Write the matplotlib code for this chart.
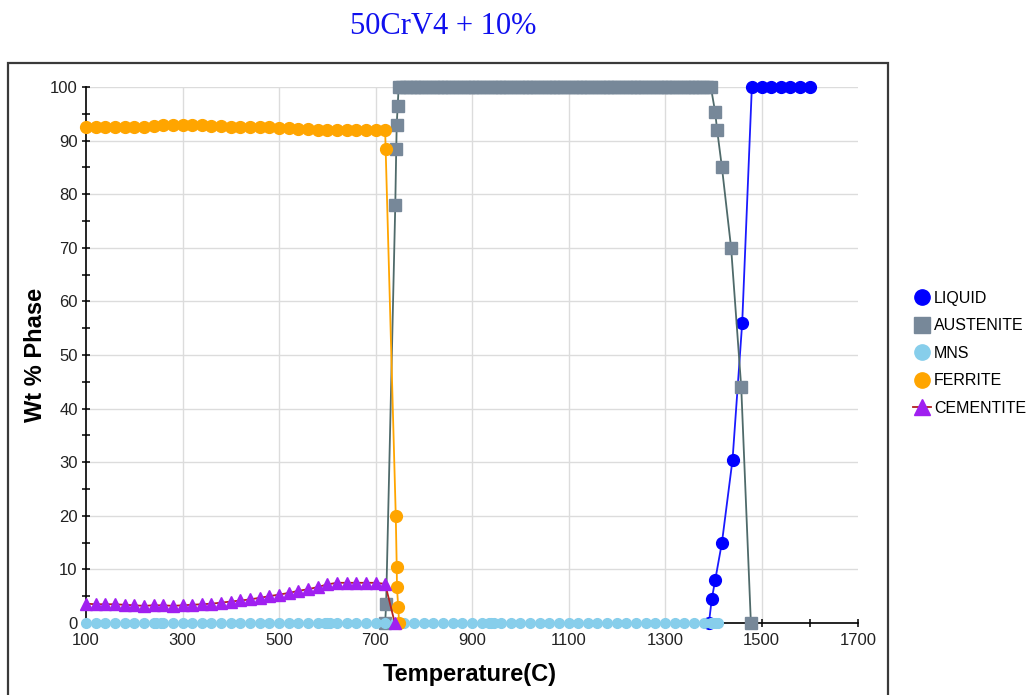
import matplotlib
matplotlib.use('Agg')
import matplotlib.pyplot as plt
from matplotlib.ticker import MultipleLocator, FixedLocator
from matplotlib.patches import Rectangle
from matplotlib.lines import Line2D

# ---------------- data ----------------
title = "50CrV4 + 10%"
x_label = "Temperature(C)"
y_label = "Wt % Phase"
series_names = ["LIQUID", "AUSTENITE", "MNS", "FERRITE", "CEMENTITE"]
x_ticks = [100, 300, 500, 700, 900, 1100, 1300, 1500, 1700]
y_ticks = [0, 10, 20, 30, 40, 50, 60, 70, 80, 90, 100]

# base sampling grid of the calculation (every 20 C)
low_T = list(range(100, 721, 20))

liquid_T = [1391, 1397, 1404, 1418, 1440, 1460, 1480, 1500, 1520, 1540, 1560, 1580, 1600]
liquid_wt = [0, 4.5, 8, 15, 30.5, 56, 100, 100, 100, 100, 100, 100, 100]

aust_rise_T = [720, 722, 741, 743, 744, 746, 748]
aust_rise_wt = [0, 3.5, 78, 88.5, 93, 96.5, 100]
aust_plateau_T = list(range(755, 1401, 8))
aust_fall_T = [1404, 1408, 1418, 1437, 1458, 1478]
aust_fall_wt = [95.3, 92, 85, 70, 44, 0]

mns_T = list(range(100, 1401, 20)) + [245, 255, 595, 605, 935, 945, 1395, 1405, 1410]
mns_wt = [0] * len(mns_T)

ferrite_low_wt = [92.5, 92.5, 92.5, 92.5, 92.5, 92.5, 92.6, 92.8, 92.9, 92.9,
                  92.9, 92.9, 92.9, 92.8, 92.7, 92.6, 92.6, 92.6, 92.5, 92.5,
                  92.4, 92.3, 92.2, 92.1, 92.0, 92.0, 92.0, 92.0, 92.0, 92.0,
                  92.0, 92.0]
ferrite_drop_T = [721, 742, 744, 744.5, 747, 749]
ferrite_drop_wt = [88.5, 20, 10.5, 6.7, 3, 0]

cementite_low_wt = [3.6, 3.5, 3.5, 3.5, 3.4, 3.3, 3.2, 3.3, 3.3, 3.2,
                    3.3, 3.4, 3.5, 3.6, 3.8, 4.0, 4.2, 4.4, 4.7, 5.0,
                    5.3, 5.6, 6.0, 6.3, 6.7, 7.2, 7.5, 7.5, 7.5, 7.5,
                    7.5, 7.3]
cementite_drop_T = [740]
cementite_drop_wt = [0]

x_min, x_max = 100, 1700
y_min, y_max = 0, 100

# ---------------- figure ----------------
fig = plt.figure(figsize=(10.29, 6.95), dpi=100)
fig.patch.set_facecolor('white')

# outer frame
fig.add_artist(Rectangle((8 / 1029, -0.02), (888 - 8) / 1029, (695 - 63) / 695 + 0.02,
                         transform=fig.transFigure, fill=False,
                         edgecolor='#3a3a3a', linewidth=1.6))

fig.text(443 / 1029, 1 - 27 / 695, title, ha='center', va='center',
         fontsize=22, color='#1010ee', family='Liberation Serif')

ax = fig.add_axes([86 / 1029, (695 - 623) / 695, 772 / 1029, 536 / 695])
ax.set_xlim(x_min, x_max)
ax.set_ylim(y_min, y_max)

colors = {'LIQUID': ('#1a1aff', '#0000ff', 'o'),
          'AUSTENITE': ('#4f6a6a', '#778899', 's'),
          'MNS': ('#87ceeb', '#87ceeb', 'o'),
          'FERRITE': ('#ffa500', '#ffa500', 'o'),
          'CEMENTITE': ('#b22222', '#a020f0', '^')}

common = dict(clip_on=False, linewidth=1.3)
lc, mc, mk = colors['LIQUID']
ax.plot(liquid_T, liquid_wt, color=lc, marker=mk, markersize=8.5,
        markerfacecolor=mc, markeredgecolor=mc, zorder=3, **common)
aust_T = aust_rise_T + aust_plateau_T + aust_fall_T
aust_wt = aust_rise_wt + [100] * len(aust_plateau_T) + aust_fall_wt
lc, mc, mk = colors['AUSTENITE']
ax.plot(aust_T, aust_wt, color=lc, marker=mk, markersize=9,
        markerfacecolor=mc, markeredgecolor=mc, zorder=3, **common)
mns_pairs = sorted(zip(mns_T, mns_wt))
lc, mc, mk = colors['MNS']
ax.plot([p[0] for p in mns_pairs], [p[1] for p in mns_pairs], color=lc,
        marker=mk, markersize=7, markerfacecolor=mc, markeredgecolor=mc,
        zorder=4, **common)
lc, mc, mk = colors['FERRITE']
ax.plot(low_T + ferrite_drop_T, ferrite_low_wt + ferrite_drop_wt, color=lc,
        marker=mk, markersize=8.5, markerfacecolor=mc, markeredgecolor=mc,
        zorder=5, **common)
lc, mc, mk = colors['CEMENTITE']
ax.plot(low_T + cementite_drop_T, cementite_low_wt + cementite_drop_wt, color=lc,
        marker=mk, markersize=9, markerfacecolor=mc, markeredgecolor=mc,
        zorder=6, **common)

# axes styling
for s in ['top', 'right']:
    ax.spines[s].set_visible(False)
for s in ['left', 'bottom']:
    ax.spines[s].set_color('black')
    ax.spines[s].set_linewidth(1.2)

ax.xaxis.set_major_locator(FixedLocator(x_ticks))
ax.xaxis.set_minor_locator(MultipleLocator(100))
ax.yaxis.set_major_locator(FixedLocator(y_ticks))
ax.yaxis.set_minor_locator(MultipleLocator(5))
ax.tick_params(which='both', direction='inout', length=6, width=1.1, color='black')
ax.tick_params(axis='x', which='major', pad=4, labelsize=12, labelcolor='#222222')
ax.tick_params(axis='y', which='major', pad=3, labelsize=12, labelcolor='#222222')
for lab in ax.get_xticklabels() + ax.get_yticklabels():
    lab.set_family('Liberation Sans')

ax.grid(True, which='major', color='#dcdcdc', linewidth=1.0)
ax.set_axisbelow(True)
xg = ax.xaxis.get_gridlines()
xg[0].set_visible(False)
xg[-1].set_visible(False)

ax.set_xlabel(x_label, fontsize=17, fontweight='bold', family='Liberation Sans')
ax.set_ylabel(y_label, fontsize=17, fontweight='bold', family='Liberation Sans')
ax.xaxis.set_label_coords(0.497, -0.075)
ax.yaxis.set_label_coords(-0.05, 0.5)

# legend: markers only (cementite shows its line colour through the triangle)
handles = []
for name in series_names:
    lc, mc, mk = colors[name]
    ls = '-' if name == 'CEMENTITE' else 'none'
    handles.append(Line2D([], [], color=lc, linestyle=ls, linewidth=1.3, marker=mk,
                          markersize=11 if mk != '^' else 11.5,
                          markerfacecolor=mc, markeredgecolor=mc))
fig.legend(handles, series_names, loc='upper left',
           bbox_to_anchor=(913 / 1029, 1 - 291 / 695),
           frameon=False, handlelength=1.1, handletextpad=0.2,
           labelspacing=0.78, borderpad=0, borderaxespad=0, numpoints=1,
           prop={'family': 'Liberation Sans', 'size': 11.5})

fig.savefig('out.png', dpi=100)
